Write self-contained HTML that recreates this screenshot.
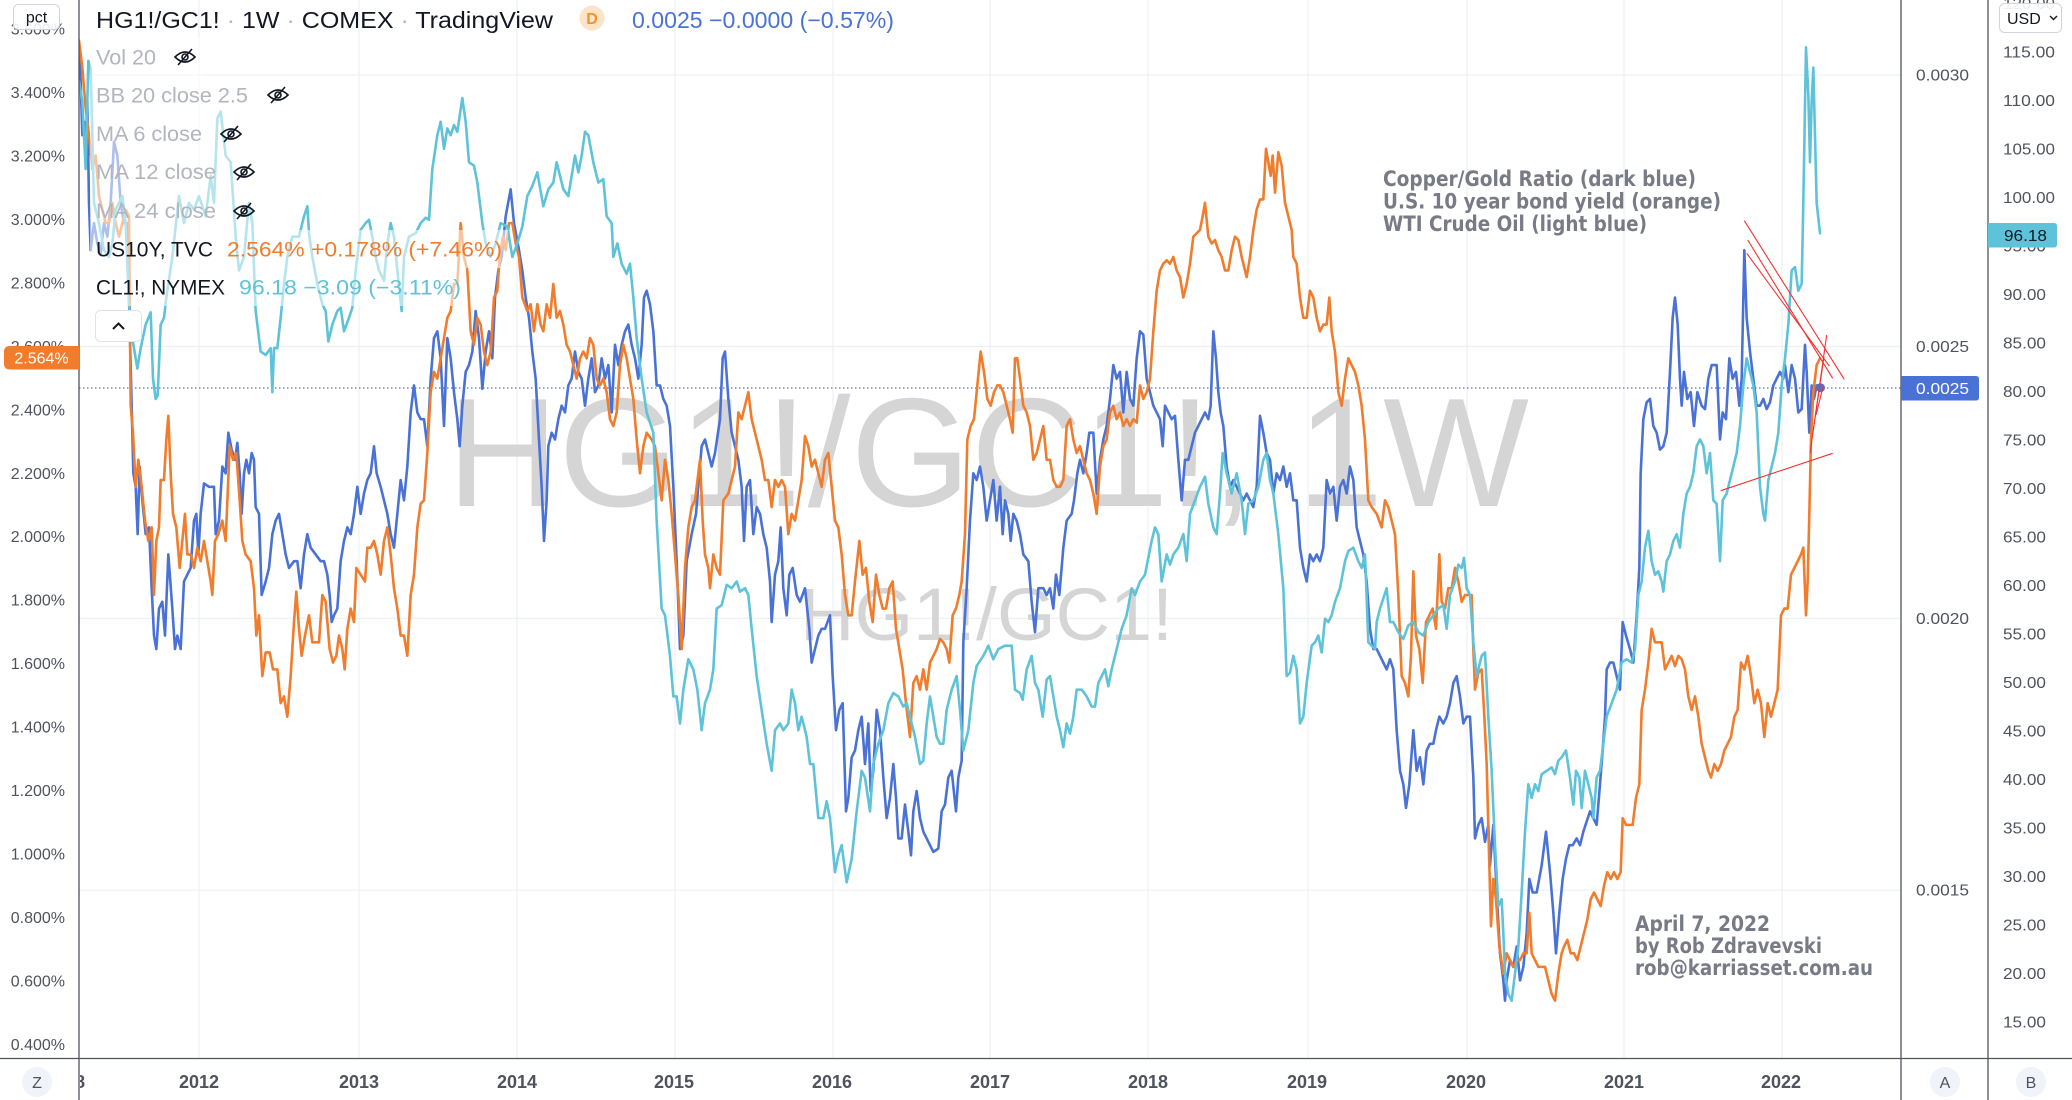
<!DOCTYPE html>
<html><head><meta charset="utf-8"><style>
html,body{margin:0;padding:0;background:#fff;width:2072px;height:1100px;overflow:hidden}
svg{display:block;font-family:"Liberation Sans",sans-serif}
.s{fill:none;stroke-width:2.6;vector-effect:non-scaling-stroke;stroke-linejoin:round;stroke-linecap:round}
.b{stroke:#4a72d6}.o{stroke:#f07c2c}.c{stroke:#5ec3d8}
.ax{font-size:16px;fill:#50535e}
.yr{font-size:18px;font-weight:bold;fill:#50535e}
.lg{font-size:21px}
.an{font-family:"DejaVu Sans",sans-serif;font-weight:bold;font-size:21px;fill:#787b86}
.eye path,.eye line{fill:none;stroke:#131722;stroke-width:1.6}
</style></head><body>
<svg width="2072" height="1100" viewBox="0 0 2072 1100">
<rect x="0" y="0" width="2072" height="1100" fill="#fff"/>
<!-- grid -->
<g stroke="#edf0f5" stroke-width="1.2">
<line x1="79" y1="75" x2="1901" y2="75"/><line x1="79" y1="346.5" x2="1901" y2="346.5"/>
<line x1="79" y1="618.4" x2="1901" y2="618.4"/><line x1="79" y1="890.2" x2="1901" y2="890.2"/>
<line x1="199" y1="0" x2="199" y2="1058"/><line x1="359" y1="0" x2="359" y2="1058"/>
<line x1="517" y1="0" x2="517" y2="1058"/><line x1="675" y1="0" x2="675" y2="1058"/>
<line x1="833" y1="0" x2="833" y2="1058"/><line x1="990" y1="0" x2="990" y2="1058"/>
<line x1="1148" y1="0" x2="1148" y2="1058"/><line x1="1308" y1="0" x2="1308" y2="1058"/>
<line x1="1467" y1="0" x2="1467" y2="1058"/><line x1="1624" y1="0" x2="1624" y2="1058"/>
<line x1="1782" y1="0" x2="1782" y2="1058"/>
</g>
<!-- watermark -->
<text x="447" y="506" font-size="155" fill="#d5d5d5" textLength="1082" lengthAdjust="spacingAndGlyphs">HG1!/GC1!, 1W</text>
<text x="800" y="640" font-size="74" fill="#d5d5d5" textLength="373" lengthAdjust="spacingAndGlyphs">HG1!/GC1!</text>
<defs><clipPath id="pl"><rect x="79" y="0" width="1822" height="1058"/></clipPath></defs>
<g clip-path="url(#pl)">
<line x1="79" y1="388" x2="1901" y2="388" stroke="#4a72d6" stroke-width="1.2" stroke-dasharray="1.5 2.5"/>
<!-- dark blue -->
<g transform="matrix(0.33333 0 0 0.67613 79 0)"><polyline class="s b" points="0,70 5,120 10,200 15,180 20,215 25,150 30,300 35,370 45,330 55,360 65,375 75,330 85,350 95,300 105,210 115,230 125,300 135,330 145,330 152,480 158,600 163,700 170,720 176,790 182,690 190,740 200,790 210,780 218,870 225,940 232,960 240,900 250,890 258,940 268,820 280,900 288,960 295,940 305,960 315,860 325,850 335,840 345,770 352,760 358,820 365,760 375,715 390,720 405,720 410,790 420,770 430,690 440,700 448,640 458,665 468,680 475,655 482,700 488,760 495,700 502,680 510,700 518,670 525,680 530,750 540,760 548,880 560,860 570,840 580,790 590,770 600,760 610,790 620,820 630,840 645,830 655,830 665,870 675,820 685,790 695,810 710,820 725,830 735,830 745,850 752,880 758,920 765,910 775,900 785,830 795,800 805,780 815,790 825,760 835,720 845,760 855,730 865,710 875,700 885,660 893,700 905,720 915,740 925,760 935,790 945,810 955,760 965,710 975,740 985,690 995,610 1005,570 1015,610 1025,620 1035,620 1045,660 1055,560 1065,500 1075,490 1085,530 1095,630 1105,500 1115,530 1125,580 1135,620 1142,660 1150,600 1160,550 1170,540 1180,520 1190,460 1200,500 1210,575 1220,520 1230,490 1240,530 1248,440 1258,400 1268,380 1280,320 1295,280 1305,330 1320,370 1330,400 1340,440 1350,470 1360,520 1370,560 1380,650"/></g>
<g transform="matrix(0.33333 0 0 0.67613 540 0)"><polyline class="s b" points="-3,650 5,720 12,800 20,740 25,660 35,640 45,650 55,620 65,600 75,610 85,570 95,560 105,520 115,550 125,560 135,600 145,560 155,530 165,580 175,570 185,530 195,560 205,540 215,610 225,510 235,540 245,510 255,490 265,480 275,510 285,530 295,560 305,510 312,440 320,430 330,450 340,490 350,570 360,570 370,590 380,600 390,630 400,720 410,830 420,960 430,940 440,830 455,790 468,760 478,700 485,660 495,650 505,670 515,690 525,670 540,620 548,530 555,520 565,590 575,640 585,660 595,680 605,720 612,800 620,720 630,710 640,790 650,750 660,760 670,790 680,810 690,860 695,920 705,850 715,830 722,780 730,870 740,910 748,850 758,840 770,880 780,890 795,870 808,930 815,980 825,960 835,940 845,930 855,930 870,910 878,1000 888,1080 898,1050 908,1040 918,1200 925,1180 935,1120 945,1110 955,1080 965,1060 975,1130 985,1070 992,1170 1000,1140 1010,1050 1020,1080 1030,1150 1040,1210 1050,1180 1060,1130 1068,1180 1075,1240 1085,1240 1095,1190 1105,1230 1113,1265 1120,1200 1130,1170 1140,1210 1150,1230 1160,1240 1170,1250 1180,1260 1195,1255 1205,1200 1215,1190 1225,1150 1235,1140 1248,1200 1255,1150 1265,1125 1270,950 1280,870 1290,770 1300,700 1310,710 1320,690 1330,720 1340,770 1350,740 1360,710 1370,770 1380,720"/></g>
<g transform="matrix(0.33333 0 0 0.67613 1000 0)"><polyline class="s b" points="0,720 8,790 15,740 25,760 32,800 40,760 50,770 60,790 70,820 85,830 95,890 105,935 115,870 130,870 140,880 150,870 160,900 168,850 178,880 190,810 200,770 215,760 222,740 232,700 240,680 250,700 260,670 268,640 280,640 290,730 300,680 310,650 320,630 330,590 340,540 350,560 360,550 370,610 380,550 390,590 400,600 410,530 420,490 430,495 440,560 450,580 460,600 470,610 480,620 488,660 495,600 505,610 515,620 525,615 535,680 545,740 555,680 565,680 575,660 585,640 595,630 605,620 615,610 625,620 632,600 640,490 648,530 655,580 662,610 670,630 680,690 690,720 700,710 710,720 720,730 730,740 740,730 750,740 760,750 770,720 780,615 790,640 800,670 810,680 820,730 830,700 840,710 850,690 860,720 870,700 880,740 890,740 900,810 910,840 920,860 930,820 940,830 950,820 960,830 970,810 980,710 990,730 1000,720 1010,770 1020,720 1030,710 1040,730 1050,690 1060,710 1070,780 1080,800 1090,820 1100,860 1110,930 1120,960 1130,960 1140,970 1150,980 1160,990 1170,975 1180,990 1190,1080 1200,1140 1210,1160 1218,1195 1228,1160 1240,1080 1250,1140 1260,1120 1270,1160 1280,1110 1290,1100 1300,1100 1308,1080 1318,1060"/></g>
<g transform="matrix(0.33333 0 0 0.67613 1440 0)"><polyline class="s b" points="-2,1060 10,1070 20,1060 30,1040 40,1010 50,1000 60,1030 70,1070 80,1060 90,1060 100,1150 105,1240 115,1220 125,1210 135,1245 145,1220 150,1280 160,1220 170,1320 180,1410 190,1450 195,1480 200,1450 210,1420 220,1430 230,1400 240,1450 250,1430 260,1380 268,1300 278,1320 290,1320 305,1280 318,1230 330,1290 340,1350 348,1410 358,1350 368,1300 378,1270 388,1250 398,1250 410,1240 420,1250 430,1230 440,1215 450,1200 460,1210 470,1220 480,1160 488,1110 495,1060 500,990 510,980 520,980 530,1000 540,1020 548,920 558,940 570,960 580,980 590,910 598,840 602,700 610,620 620,595 630,590 640,630 650,640 660,665 670,660 680,640 690,550 698,470 705,440 713,480 720,560 725,600 732,550 742,590 752,580 762,630 772,580 785,600 795,605 805,560 815,540 830,540 840,650 848,610 858,620 868,530 878,560 888,550 898,600 905,560 913,370 920,470 930,520 940,560 950,600 960,600 970,590 980,605 990,595 1000,570 1010,560 1020,550 1030,560 1035,540 1045,580 1055,540 1065,560 1075,610 1085,605 1095,510 1100,550 1108,640 1115,570 1122,590 1130,570 1140,570 1150,575"/></g>
<!-- orange -->
<g transform="matrix(0.33333 0 0 0.67613 79 0)"><polyline class="s o" points="0,60 10,100 20,160 30,200 40,250 50,230 60,290 70,310 80,330 90,330 100,300 110,330 120,350 130,330 140,310 150,320 155,600 162,640 170,720 178,680 188,720 198,770 208,800 218,780 225,880 232,800 240,780 245,710 255,710 262,650 268,615 275,700 282,760 292,780 302,840 310,800 318,760 325,820 335,820 345,840 355,810 365,830 375,800 385,830 395,860 400,880 408,800 418,790 430,770 440,800 452,660 462,680 472,670 482,740 490,800 500,820 515,830 525,870 532,940 540,910 550,1000 560,965 572,965 582,990 595,990 605,1040 615,1030 625,1060 635,1000 645,920 652,875 660,930 668,970 678,940 690,910 700,950 710,950 720,950 730,880 740,890 752,960 762,980 772,970 780,940 790,960 797,990 805,930 815,900 825,920 832,840 845,850 858,860 865,810 875,810 885,800 895,820 905,850 915,800 925,780 935,820 945,870 955,900 965,940 975,940 985,970 995,880 1005,850 1015,780 1025,745 1035,740 1045,670 1055,580 1065,550 1075,560 1085,530 1095,500 1105,470 1115,460 1125,420 1135,420 1145,330 1155,380 1165,400 1175,490 1185,510 1195,470 1205,480 1215,520 1225,540 1235,520 1245,440 1255,430 1262,380 1272,350 1280,370 1290,330 1300,330 1310,360 1320,380 1330,440 1345,460 1355,450 1365,490 1375,450"/></g>
<g transform="matrix(0.33333 0 0 0.67613 540 0)"><polyline class="s o" points="-8,450 2,480 10,490 20,450 30,470 40,420 50,470 60,460 70,480 80,510 90,520 100,540 110,560 120,530 130,520 140,530 150,500 160,510 170,560 180,570 190,560 200,580 210,620 220,630 230,610 240,540 250,510 260,530 270,560 280,590 290,650 300,700 310,660 320,640 335,650 345,660 355,700 365,740 375,680 385,710 395,760 405,820 415,880 425,960 435,840 445,780 455,750 465,740 475,700 480,680 488,770 495,820 505,840 510,870 520,820 530,840 540,850 550,740 565,730 575,710 585,690 595,610 605,620 615,600 625,580 635,620 645,640 655,660 665,680 675,710 685,710 695,750 705,710 715,720 725,710 735,720 745,790 755,760 765,770 775,740 785,710 795,645 805,660 815,690 825,680 835,700 845,720 855,680 865,670 875,720 885,770 895,780 905,820 915,880 925,910 935,910 945,860 958,800 968,850 978,840 988,890 998,920 1008,850 1018,880 1028,900 1038,900 1048,870 1058,860 1068,930 1078,960 1088,990 1098,1040 1110,1090 1120,1010 1130,1000 1140,1020 1150,990 1160,1020 1170,980 1180,970 1190,960 1200,945 1210,950 1220,960 1228,980 1238,910 1248,900 1258,880 1265,860 1275,790 1282,650 1292,630 1302,620 1312,570 1322,520 1332,550 1342,590 1352,600 1362,580 1372,570"/></g>
<g transform="matrix(0.33333 0 0 0.67613 1000 0)"><polyline class="s o" points="-8,570 0,570 10,580 20,600 30,620 38,640 45,530 52,530 60,560 70,600 80,610 90,630 100,680 110,670 120,650 130,630 140,680 150,680 160,710 170,720 180,720 190,710 200,630 210,620 220,650 230,670 240,660 250,680 260,700 270,710 280,730 290,760 300,690 310,660 320,650 330,610 340,600 350,620 360,610 370,630 380,620 390,630 400,620 410,625 420,570 430,590 440,580 450,560 460,490 470,430 480,400 490,390 500,385 510,390 520,380 530,400 540,410 550,440 560,420 570,390 580,350 590,345 600,340 608,320 615,300 625,350 635,360 645,355 655,370 665,380 675,400 685,400 695,370 705,350 715,355 725,380 740,410 750,380 760,340 770,310 780,295 790,295 798,220 805,240 812,260 818,230 825,285 835,225 845,245 855,300 865,320 875,340 880,380 890,390 900,440 910,470 920,470 930,430 940,440 950,470 960,490 970,480 980,480 988,440 995,490 1005,520 1015,580 1025,600 1035,560 1045,530 1055,540 1065,550 1075,570 1085,600 1095,650 1105,740 1115,750 1130,760 1145,780 1155,740 1165,750 1175,770 1185,790 1195,880 1205,1000 1215,1010 1225,1030 1233,970 1240,845 1248,940 1258,960 1268,1010 1278,920 1288,910 1298,900 1308,930 1318,820"/></g>
<g transform="matrix(0.33333 0 0 0.67613 1440 0)"><polyline class="s o" points="-2,820 5,890 15,900 25,870 35,870 45,840 55,860 65,890 75,880 85,880 95,880 100,960 105,1020 115,995 125,990 132,1050 140,1130 148,1280 153,1370 160,1300 168,1330 178,1400 190,1440 200,1410 210,1420 220,1430 230,1420 240,1420 250,1410 260,1410 268,1350 275,1410 285,1420 295,1430 305,1430 315,1430 325,1450 335,1470 345,1480 355,1440 365,1410 372,1400 382,1390 392,1410 402,1410 412,1420 422,1400 432,1380 442,1360 452,1330 462,1320 472,1330 482,1340 492,1310 502,1290 512,1300 522,1290 532,1300 542,1290 548,1210 558,1220 568,1220 578,1220 588,1180 598,1160 605,1050 615,1020 625,980 635,930 645,950 655,950 665,950 675,990 685,980 695,970 705,985 715,970 725,975 735,990 745,1030 755,1050 765,1030 775,1060 785,1100 795,1120 805,1140 813,1150 823,1130 833,1140 843,1130 853,1110 863,1100 873,1090 883,1060 893,1050 903,980 913,990 923,970 933,1000 943,1040 953,1020 963,1040 973,1090 983,1040 993,1060 1003,1040 1013,1020 1023,910 1033,900 1043,900 1053,850 1063,840 1073,830 1083,820 1090,810 1098,910 1103,860 1108,760 1113,650 1120,580 1130,540 1140,530"/></g>
<!-- light blue -->
<g transform="matrix(0.33333 0 0 0.67613 79 0)"><polyline class="s c" points="0,120 10,150 20,250 28,90 35,100 45,300 60,330 75,370 90,380 100,360 110,310 120,300 130,290 140,330 150,450 160,500 175,545 185,515 200,480 215,462 222,560 230,590 236,585 245,480 255,470 262,440 280,380 300,290 315,330 330,300 345,310 360,290 380,320 395,260 405,300 415,175 425,165 440,230 455,240 470,350 480,400 495,380 510,300 520,330 530,460 545,520 560,525 575,515 580,580 585,515 595,515 605,470 615,420 625,380 640,350 660,350 675,320 685,305 690,345 700,380 715,420 730,450 740,460 748,505 760,480 775,460 785,455 795,490 810,470 820,455 830,400 845,340 860,330 870,325 880,350 890,380 900,400 915,415 925,360 935,330 945,350 955,400 968,460 975,380 990,350 1010,345 1025,330 1040,322 1050,325 1060,250 1075,200 1085,180 1095,220 1105,190 1115,200 1125,185 1135,195 1150,145 1160,180 1170,240 1185,245 1195,270 1210,330 1220,360 1235,380 1250,360 1265,330 1285,335 1300,380 1315,360 1330,335 1345,290 1360,275 1375,255"/></g>
<g transform="matrix(0.33333 0 0 0.67613 540 0)"><polyline class="s c" points="-8,255 10,305 25,280 40,270 50,240 60,260 70,280 85,290 95,260 105,230 115,255 125,230 135,195 145,200 160,240 175,270 190,265 200,320 215,330 220,380 232,360 245,390 260,405 270,390 280,440 290,500 305,560 320,610 340,640 350,770 365,900 375,910 390,970 400,1030 410,1030 420,1070 430,1020 445,975 460,990 472,1020 485,1080 495,1040 510,1020 520,990 530,900 545,895 560,865 575,870 590,860 600,875 615,870 625,880 635,930 650,1000 665,1050 680,1100 695,1140 705,1080 720,1070 730,1080 745,1070 755,1020 765,1040 775,1080 785,1060 800,1090 810,1130 820,1130 835,1210 850,1210 860,1185 870,1210 885,1290 895,1265 905,1250 920,1305 935,1270 950,1200 965,1140 975,1150 990,1200 1000,1130 1015,1100 1030,1080 1045,1040 1060,1025 1075,1030 1090,1045 1100,1040 1110,1060 1125,1090 1140,1130 1150,1125 1160,1070 1170,1030 1180,1060 1190,1090 1200,1100 1210,1100 1220,1050 1235,1020 1250,1000 1260,1050 1270,1110 1285,1080 1300,1010 1310,985 1330,970 1345,955 1360,975 1375,960"/></g>
<g transform="matrix(0.33333 0 0 0.67613 1000 0)"><polyline class="s c" points="-5,960 15,955 35,955 45,1020 60,1025 68,1035 80,990 95,970 105,1010 115,1020 128,1060 140,1005 150,1000 160,1030 170,1060 180,1080 190,1105 200,1070 210,1085 220,1060 230,1020 245,1020 260,1030 275,1045 285,1045 295,1010 305,1000 315,990 325,1015 335,990 350,960 365,930 380,910 395,870 405,880 420,860 435,850 445,825 455,800 465,780 475,790 485,860 500,820 510,835 520,820 535,810 550,790 560,830 570,760 585,740 600,720 615,705 625,745 640,780 650,790 660,730 668,670 680,700 695,730 710,700 725,740 735,790 745,745 760,740 775,720 790,680 800,670 810,710 820,730 835,790 850,870 860,1000 870,995 880,970 890,990 900,1070 910,1060 920,1010 935,955 945,950 955,940 965,965 975,915 985,920 995,910 1005,890 1020,870 1035,830 1045,815 1060,810 1075,830 1085,840 1095,820 1105,950 1115,955 1125,960 1130,920 1140,900 1150,885 1160,870 1170,920 1180,920 1195,935 1210,945 1225,925 1240,920 1255,935 1270,940 1285,920 1300,910 1315,900"/></g>
<g transform="matrix(0.33333 0 0 0.67613 1440 0)"><polyline class="s c" points="-5,900 10,895 20,930 30,880 45,860 55,835 65,840 72,825 80,870 90,880 100,950 110,1000 125,970 135,965 145,1060 155,1140 165,1250 175,1340 185,1330 190,1380 195,1440 205,1470 215,1480 225,1440 235,1400 245,1320 255,1230 265,1160 275,1180 285,1160 295,1170 305,1145 320,1140 335,1135 345,1145 355,1125 365,1120 378,1110 390,1150 400,1190 408,1140 418,1150 425,1195 435,1140 445,1160 455,1180 460,1210 470,1150 480,1140 490,1100 500,1060 515,1040 530,1020 545,980 560,975 575,980 585,960 595,880 605,860 615,810 625,785 635,830 645,850 655,845 665,860 670,875 680,830 690,820 700,800 710,790 720,810 730,760 740,730 750,720 760,700 770,660 780,650 790,660 800,700 810,670 820,740 830,745 840,830 848,740 860,730 870,710 880,690 890,670 900,630 910,570 920,530 930,550 940,570 950,610 960,720 970,760 975,770 985,710 995,690 1005,670 1015,640 1025,570 1035,530 1045,480 1055,400 1065,395 1075,430 1085,420 1090,300 1098,70 1105,140 1110,240 1115,150 1120,100 1125,200 1130,300 1140,345"/></g>
<circle cx="1820.5" cy="387.7" r="4.5" fill="#4a72d6"/>
<!-- red trend lines -->
<g stroke="#f23030" stroke-width="1.1">
<line x1="1744.3" y1="220.7" x2="1844.3" y2="379.3"/>
<line x1="1747.7" y1="240" x2="1832.7" y2="378.3"/>
<line x1="1746.7" y1="253.3" x2="1829.3" y2="366"/>
<line x1="1720.7" y1="490.7" x2="1832.7" y2="453.3"/>
<line x1="1810" y1="453.3" x2="1826.7" y2="335"/>
<line x1="1813.3" y1="430" x2="1824" y2="356.7"/>
<line x1="1816" y1="415" x2="1823" y2="387"/>
</g>
</g>
<!-- legend backgrounds -->
<g fill="#fff" fill-opacity="0.55">
<rect x="90" y="38" width="112" height="38"/>
<rect x="90" y="76" width="205" height="38"/>
<rect x="90" y="114" width="158" height="39"/>
<rect x="90" y="153" width="172" height="38"/>
<rect x="90" y="191" width="172" height="39"/>
<rect x="90" y="230" width="418" height="38"/>
<rect x="90" y="268" width="376" height="38"/>
</g>
<!-- title -->
<text x="96" y="28" font-size="23" fill="#131722" textLength="457" lengthAdjust="spacingAndGlyphs">HG1!/GC1!<tspan fill="#b2b5be"> · </tspan>1W<tspan fill="#b2b5be"> · </tspan>COMEX<tspan fill="#b2b5be"> · </tspan>TradingView</text>
<circle cx="592" cy="18" r="12.5" fill="#fde4c8"/>
<text x="592" y="24" font-size="16" font-weight="bold" fill="#f0932b" text-anchor="middle">D</text>
<text x="632" y="28" font-size="23" fill="#4a72d6" textLength="262" lengthAdjust="spacingAndGlyphs">0.0025 −0.0000 (−0.57%)</text>
<!-- legend -->
<g class="lg">
<text x="96" y="64.5" fill="#b2b5be" textLength="60" lengthAdjust="spacingAndGlyphs">Vol 20</text>
<text x="96" y="102.5" fill="#b2b5be" textLength="152" lengthAdjust="spacingAndGlyphs">BB 20 close 2.5</text>
<text x="96" y="141" fill="#b2b5be" textLength="106" lengthAdjust="spacingAndGlyphs">MA 6 close</text>
<text x="96" y="179" fill="#b2b5be" textLength="120" lengthAdjust="spacingAndGlyphs">MA 12 close</text>
<text x="96" y="218" fill="#b2b5be" textLength="120" lengthAdjust="spacingAndGlyphs">MA 24 close</text>
<text x="96" y="256.5" fill="#131722" textLength="117" lengthAdjust="spacingAndGlyphs">US10Y, TVC</text>
<text x="227" y="256.5" fill="#f07c2c" textLength="275" lengthAdjust="spacingAndGlyphs">2.564% +0.178% (+7.46%)</text>
<text x="96" y="294.5" fill="#131722" textLength="129" lengthAdjust="spacingAndGlyphs">CL1!, NYMEX</text>
<text x="239" y="294.5" fill="#5ec3d8" textLength="222" lengthAdjust="spacingAndGlyphs">96.18 −3.09 (−3.11%)</text>
</g>
<g class="eye">
<g transform="translate(185,57)"><path d="M-10,0 Q0,-10 10,0 Q0,10 -10,0Z"/><circle r="3" fill="none" stroke="#131722" stroke-width="1.6"/><line x1="-7" y1="8" x2="7" y2="-8"/></g>
<g transform="translate(278,95)"><path d="M-10,0 Q0,-10 10,0 Q0,10 -10,0Z"/><circle r="3" fill="none" stroke="#131722" stroke-width="1.6"/><line x1="-7" y1="8" x2="7" y2="-8"/></g>
<g transform="translate(231,134)"><path d="M-10,0 Q0,-10 10,0 Q0,10 -10,0Z"/><circle r="3" fill="none" stroke="#131722" stroke-width="1.6"/><line x1="-7" y1="8" x2="7" y2="-8"/></g>
<g transform="translate(244,172)"><path d="M-10,0 Q0,-10 10,0 Q0,10 -10,0Z"/><circle r="3" fill="none" stroke="#131722" stroke-width="1.6"/><line x1="-7" y1="8" x2="7" y2="-8"/></g>
<g transform="translate(244,211)"><path d="M-10,0 Q0,-10 10,0 Q0,10 -10,0Z"/><circle r="3" fill="none" stroke="#131722" stroke-width="1.6"/><line x1="-7" y1="8" x2="7" y2="-8"/></g>
</g>
<rect x="95.5" y="310.5" width="46" height="31" rx="5" fill="#fff" stroke="#e0e3eb"/>
<path d="M113,329 L118.5,323.5 L124,329" fill="none" stroke="#131722" stroke-width="2"/>
<!-- annotations -->
<text class="an" x="1383" y="186" textLength="313" lengthAdjust="spacingAndGlyphs">Copper/Gold Ratio (dark blue)</text>
<text class="an" x="1383" y="208.5" textLength="338" lengthAdjust="spacingAndGlyphs">U.S. 10 year bond yield (orange)</text>
<text class="an" x="1383" y="231" textLength="264" lengthAdjust="spacingAndGlyphs">WTI Crude Oil (light blue)</text>
<text class="an" x="1635" y="931" textLength="135" lengthAdjust="spacingAndGlyphs">April 7, 2022</text>
<text class="an" x="1635" y="953" textLength="187" lengthAdjust="spacingAndGlyphs">by Rob Zdravevski</text>
<text class="an" x="1635" y="975" textLength="238" lengthAdjust="spacingAndGlyphs">rob@karriasset.com.au</text>
<!-- axes lines -->
<g stroke="#50535e" stroke-width="1.3">
<line x1="79" y1="0" x2="79" y2="1100"/>
<line x1="1901" y1="0" x2="1901" y2="1100"/>
<line x1="1988" y1="0" x2="1988" y2="1100"/>
<line x1="0" y1="1058.5" x2="2072" y2="1058.5"/>
</g>
<!-- left pct axis -->
<g class="ax" text-anchor="end">
<text x="65" y="34.5">3.600%</text><text x="65" y="98">3.400%</text><text x="65" y="161.5">3.200%</text>
<text x="65" y="225">3.000%</text><text x="65" y="288.5">2.800%</text><text x="65" y="352">2.600%</text>
<text x="65" y="415.5">2.400%</text><text x="65" y="479">2.200%</text><text x="65" y="542">2.000%</text>
<text x="65" y="605.5">1.800%</text><text x="65" y="669">1.600%</text><text x="65" y="732.5">1.400%</text>
<text x="65" y="796">1.200%</text><text x="65" y="859.5">1.000%</text><text x="65" y="923">0.800%</text>
<text x="65" y="986.5">0.600%</text><text x="65" y="1050">0.400%</text>
</g>
<rect x="13.5" y="4.5" width="46" height="25" rx="5" fill="#fff" fill-opacity="0.88" stroke="#d1d4dc"/>
<text x="36.5" y="22.5" font-size="16" fill="#131722" text-anchor="middle">pct</text>
<path d="M4,352 Q4,346 10,346 L79,346 L79,369.5 L10,369.5 Q4,369.5 4,363.5Z" fill="#f07c2c"/>
<text x="41.5" y="363.5" font-size="16" fill="#fff" text-anchor="middle">2.564%</text>
<!-- middle axis -->
<g class="ax" fill="#5d606b">
<text x="1916" y="80.5" textLength="53" lengthAdjust="spacingAndGlyphs">0.0030</text>
<text x="1916" y="352" textLength="53" lengthAdjust="spacingAndGlyphs">0.0025</text>
<text x="1916" y="624" textLength="53" lengthAdjust="spacingAndGlyphs">0.0020</text>
<text x="1916" y="895.5" textLength="53" lengthAdjust="spacingAndGlyphs">0.0015</text>
</g>
<path d="M1901,376 L1976,376 Q1979,376 1979,379 L1979,397.5 Q1979,400.5 1976,400.5 L1901,400.5Z" fill="#4a72d6"/>
<text x="1916" y="394" font-size="16" fill="#fff" textLength="53" lengthAdjust="spacingAndGlyphs">0.0025</text>
<!-- right CL axis -->
<g class="ax">
<text x="2003" y="9" textLength="52" lengthAdjust="spacingAndGlyphs">120.00</text>
<text x="2003" y="57.5" textLength="52" lengthAdjust="spacingAndGlyphs">115.00</text>
<text x="2003" y="106" textLength="52" lengthAdjust="spacingAndGlyphs">110.00</text>
<text x="2003" y="154.5" textLength="52" lengthAdjust="spacingAndGlyphs">105.00</text>
<text x="2003" y="203" textLength="52" lengthAdjust="spacingAndGlyphs">100.00</text>
<text x="2003" y="251.5" textLength="43" lengthAdjust="spacingAndGlyphs">95.00</text>
<text x="2003" y="300" textLength="43" lengthAdjust="spacingAndGlyphs">90.00</text>
<text x="2003" y="348.5" textLength="43" lengthAdjust="spacingAndGlyphs">85.00</text>
<text x="2003" y="397" textLength="43" lengthAdjust="spacingAndGlyphs">80.00</text>
<text x="2003" y="445.5" textLength="43" lengthAdjust="spacingAndGlyphs">75.00</text>
<text x="2003" y="494" textLength="43" lengthAdjust="spacingAndGlyphs">70.00</text>
<text x="2003" y="542.5" textLength="43" lengthAdjust="spacingAndGlyphs">65.00</text>
<text x="2003" y="591" textLength="43" lengthAdjust="spacingAndGlyphs">60.00</text>
<text x="2003" y="639.5" textLength="43" lengthAdjust="spacingAndGlyphs">55.00</text>
<text x="2003" y="688" textLength="43" lengthAdjust="spacingAndGlyphs">50.00</text>
<text x="2003" y="736.5" textLength="43" lengthAdjust="spacingAndGlyphs">45.00</text>
<text x="2003" y="785" textLength="43" lengthAdjust="spacingAndGlyphs">40.00</text>
<text x="2003" y="833.5" textLength="43" lengthAdjust="spacingAndGlyphs">35.00</text>
<text x="2003" y="882" textLength="43" lengthAdjust="spacingAndGlyphs">30.00</text>
<text x="2003" y="930.5" textLength="43" lengthAdjust="spacingAndGlyphs">25.00</text>
<text x="2003" y="979" textLength="43" lengthAdjust="spacingAndGlyphs">20.00</text>
<text x="2003" y="1027.5" textLength="43" lengthAdjust="spacingAndGlyphs">15.00</text>
</g>
<path d="M1988,223 L2054,223 Q2057,223 2057,226 L2057,244.5 Q2057,247.5 2054,247.5 L1988,247.5Z" fill="#5ec3d8"/>
<text x="2004" y="241" font-size="16" fill="#131722" textLength="43" lengthAdjust="spacingAndGlyphs">96.18</text>
<rect x="1999.5" y="3.5" width="62" height="29" rx="5" fill="#fff" fill-opacity="0.9" stroke="#d1d4dc"/>
<text x="2007" y="24" font-size="16" fill="#131722">USD</text>
<path d="M2050,16 L2053.5,19.5 L2057,16" fill="none" stroke="#131722" stroke-width="1.4"/>
<!-- bottom axis -->
<g class="yr" text-anchor="middle">
<text x="199" y="1088">2012</text><text x="359" y="1088">2013</text><text x="517" y="1088">2014</text>
<text x="674" y="1088">2015</text><text x="832" y="1088">2016</text><text x="990" y="1088">2017</text>
<text x="1148" y="1088">2018</text><text x="1307" y="1088">2019</text><text x="1466" y="1088">2020</text>
<text x="1624" y="1088">2021</text><text x="1781" y="1088">2022</text>
</g>
<defs><clipPath id="c8"><rect x="80" y="1060" width="20" height="40"/></clipPath></defs>
<text x="75" y="1088" class="yr" clip-path="url(#c8)">8</text>
<circle cx="37" cy="1082" r="15" fill="#f0f3fa"/>
<text x="37" y="1088" font-size="16" fill="#50535e" text-anchor="middle">Z</text>
<circle cx="1945" cy="1082" r="15" fill="#f0f3fa"/>
<text x="1945" y="1088" font-size="16" fill="#50535e" text-anchor="middle">A</text>
<circle cx="2031" cy="1082" r="15" fill="#f0f3fa"/>
<text x="2031" y="1088" font-size="16" fill="#50535e" text-anchor="middle">B</text>
</svg>
</body></html>
